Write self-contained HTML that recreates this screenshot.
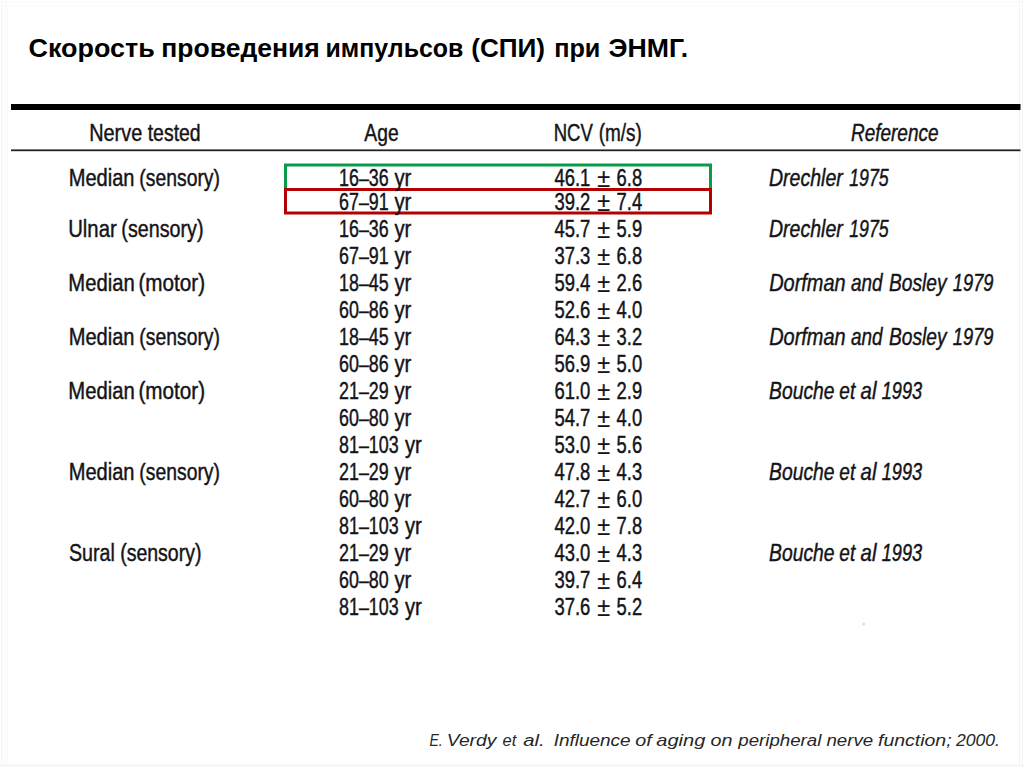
<!DOCTYPE html>
<html><head><meta charset="utf-8"><style>
html,body{margin:0;padding:0;background:#fff;}
body{width:1024px;height:767px;overflow:hidden;position:relative;}
svg{position:absolute;left:0;top:0;}
svg text{font-family:"Liberation Sans",sans-serif;}
</style></head><body>
<svg width="1024" height="767" viewBox="0 0 1024 767">
<rect x="0" y="0" width="1024" height="767" fill="#fff"/>
<rect x="1.5" y="0" width="1" height="767" fill="#f3f3f3"/>
<rect x="1019" y="0" width="1" height="767" fill="#f3f3f3"/>
<rect x="11" y="104" width="1009.5" height="6" fill="#000"/>
<rect x="11" y="149.4" width="1009.5" height="1.8" fill="#222"/>
<rect x="285.5" y="165" width="425" height="24.5" fill="none" stroke="#079c4a" stroke-width="3"/>
<rect x="285.5" y="189.5" width="425" height="23.5" fill="none" stroke="#b40000" stroke-width="3"/>
<rect x="0" y="764" width="1024" height="3" fill="#f7f7f7"/>
<rect x="5" y="0" width="1" height="767" fill="#f8f8f8"/>
<rect x="1022" y="0" width="1" height="767" fill="#f6f6f6"/>
<rect x="0" y="1.5" width="1024" height="1" fill="#f7f7f7"/>
<rect x="7" y="5" width="1010" height="1" fill="#f9f9f9"/>
<rect x="7" y="5" width="1" height="758" fill="#f9f9f9"/>
<circle cx="863.7" cy="624" r="1.5" fill="#ddd"/>
<text transform="translate(28.52,56.90) scale(1.0167,1)" font-size="26.5" font-weight="bold" font-style="normal" fill="#000" >Скорость</text>
<text transform="translate(161.34,56.90) scale(1.0009,1)" font-size="26.5" font-weight="bold" font-style="normal" fill="#000" >проведения</text>
<text transform="translate(325.56,56.90) scale(0.9397,1)" font-size="26.5" font-weight="bold" font-style="normal" fill="#000" >импульсов</text>
<text transform="translate(471.19,56.90) scale(0.9856,1)" font-size="26.5" font-weight="bold" font-style="normal" fill="#000" >(СПИ)</text>
<text transform="translate(554.13,56.90) scale(0.9534,1)" font-size="26.5" font-weight="bold" font-style="normal" fill="#000" >при</text>
<text transform="translate(608.60,56.90) scale(1.0067,1)" font-size="26.5" font-weight="bold" font-style="normal" fill="#000" >ЭНМГ.</text>
<text transform="translate(429.48,745.50) scale(0.8265,1)" font-size="17" font-weight="normal" font-style="italic" fill="#262626" >E.</text>
<text transform="translate(446.76,745.50) scale(1.1325,1)" font-size="17" font-weight="normal" font-style="italic" fill="#262626" >Verdy</text>
<text transform="translate(502.52,745.50) scale(0.9709,1)" font-size="17" font-weight="normal" font-style="italic" fill="#262626" >et</text>
<text transform="translate(523.19,745.50) scale(1.1958,1)" font-size="17" font-weight="normal" font-style="italic" fill="#262626" >al.</text>
<text transform="translate(553.64,745.50) scale(1.1159,1)" font-size="17" font-weight="normal" font-style="italic" fill="#262626" >Influence</text>
<text transform="translate(635.21,745.50) scale(1.1633,1)" font-size="17" font-weight="normal" font-style="italic" fill="#262626" >of</text>
<text transform="translate(656.30,745.50) scale(1.1813,1)" font-size="17" font-weight="normal" font-style="italic" fill="#262626" >aging</text>
<text transform="translate(710.41,745.50) scale(1.1651,1)" font-size="17" font-weight="normal" font-style="italic" fill="#262626" >on</text>
<text transform="translate(738.27,745.50) scale(1.0993,1)" font-size="17" font-weight="normal" font-style="italic" fill="#262626" >peripheral</text>
<text transform="translate(826.42,745.50) scale(1.1020,1)" font-size="17" font-weight="normal" font-style="italic" fill="#262626" >nerve</text>
<text transform="translate(878.02,745.50) scale(1.1448,1)" font-size="17" font-weight="normal" font-style="italic" fill="#262626" >function;</text>
<text transform="translate(955.89,745.50) scale(1.0359,1)" font-size="17" font-weight="normal" font-style="italic" fill="#262626" >2000.</text>
<text transform="translate(89.21,141.00) scale(0.8115,1)" font-size="24.5" font-weight="normal" font-style="normal" fill="#141418" stroke="#141418" stroke-width="0.45">Nerve</text>
<text transform="translate(147.71,141.00) scale(0.7932,1)" font-size="24.5" font-weight="normal" font-style="normal" fill="#141418" stroke="#141418" stroke-width="0.45">tested</text>
<text transform="translate(364.30,141.00) scale(0.7880,1)" font-size="24.5" font-weight="normal" font-style="normal" fill="#141418" stroke="#141418" stroke-width="0.45">Age</text>
<text transform="translate(553.71,141.00) scale(0.7579,1)" font-size="24.5" font-weight="normal" font-style="normal" fill="#141418" stroke="#141418" stroke-width="0.45">NCV</text>
<text transform="translate(598.66,141.00) scale(0.7728,1)" font-size="24.5" font-weight="normal" font-style="normal" fill="#141418" stroke="#141418" stroke-width="0.45">(m/s)</text>
<text transform="translate(851.03,141.00) scale(0.7742,1)" font-size="24.5" font-weight="normal" font-style="italic" fill="#141418" stroke="#141418" stroke-width="0.45">Reference</text>
<text transform="translate(68.69,186.30) scale(0.8189,1)" font-size="24.5" font-weight="normal" font-style="normal" fill="#141418" stroke="#141418" stroke-width="0.45">Median</text>
<text transform="translate(139.34,186.30) scale(0.7901,1)" font-size="24.5" font-weight="normal" font-style="normal" fill="#141418" stroke="#141418" stroke-width="0.45">(sensory)</text>
<text transform="translate(339.06,186.30) scale(0.7568,1.0000)" font-size="23.6" font-style="normal" fill="#141418" stroke="#141418" stroke-width="0.45">16–36</text>
<text transform="translate(394.50,186.30) scale(0.8579,1.0000)" font-size="23.6" font-style="normal" fill="#141418" stroke="#141418" stroke-width="0.45">yr</text>
<text transform="translate(554.46,186.30) scale(0.7819,1.0000)" font-size="23.6" font-style="normal" fill="#141418" stroke="#141418" stroke-width="0.45">46.1</text>
<text transform="translate(597.30,186.90) scale(0.9945,1.1088)" font-size="23.6" font-style="normal" fill="#141418" stroke="#141418" stroke-width="0.2">±</text>
<text transform="translate(616.58,186.30) scale(0.7787,1.0000)" font-size="23.6" font-style="normal" fill="#141418" stroke="#141418" stroke-width="0.45">6.8</text>
<text transform="translate(769.01,186.30) scale(0.7969,1)" font-size="24.5" font-weight="normal" font-style="italic" fill="#141418" stroke="#141418" stroke-width="0.45">Drechler</text>
<text transform="translate(849.16,186.30) scale(0.7256,1)" font-size="24.5" font-weight="normal" font-style="italic" fill="#141418" stroke="#141418" stroke-width="0.45">1975</text>
<text transform="translate(339.06,210.20) scale(0.7568,1.0000)" font-size="23.6" font-style="normal" fill="#141418" stroke="#141418" stroke-width="0.45">67–91</text>
<text transform="translate(394.50,210.20) scale(0.8579,1.0000)" font-size="23.6" font-style="normal" fill="#141418" stroke="#141418" stroke-width="0.45">yr</text>
<text transform="translate(554.46,210.20) scale(0.7819,1.0000)" font-size="23.6" font-style="normal" fill="#141418" stroke="#141418" stroke-width="0.45">39.2</text>
<text transform="translate(597.30,210.80) scale(0.9945,1.1088)" font-size="23.6" font-style="normal" fill="#141418" stroke="#141418" stroke-width="0.2">±</text>
<text transform="translate(616.58,210.20) scale(0.7787,1.0000)" font-size="23.6" font-style="normal" fill="#141418" stroke="#141418" stroke-width="0.45">7.4</text>
<text transform="translate(68.18,237.20) scale(0.8288,1)" font-size="24.5" font-weight="normal" font-style="normal" fill="#141418" stroke="#141418" stroke-width="0.45">Ulnar</text>
<text transform="translate(121.32,237.20) scale(0.8052,1)" font-size="24.5" font-weight="normal" font-style="normal" fill="#141418" stroke="#141418" stroke-width="0.45">(sensory)</text>
<text transform="translate(339.06,237.20) scale(0.7568,1.0000)" font-size="23.6" font-style="normal" fill="#141418" stroke="#141418" stroke-width="0.45">16–36</text>
<text transform="translate(394.50,237.20) scale(0.8579,1.0000)" font-size="23.6" font-style="normal" fill="#141418" stroke="#141418" stroke-width="0.45">yr</text>
<text transform="translate(554.46,237.20) scale(0.7819,1.0000)" font-size="23.6" font-style="normal" fill="#141418" stroke="#141418" stroke-width="0.45">45.7</text>
<text transform="translate(597.30,237.80) scale(0.9945,1.1088)" font-size="23.6" font-style="normal" fill="#141418" stroke="#141418" stroke-width="0.2">±</text>
<text transform="translate(616.58,237.20) scale(0.7787,1.0000)" font-size="23.6" font-style="normal" fill="#141418" stroke="#141418" stroke-width="0.45">5.9</text>
<text transform="translate(769.01,237.20) scale(0.7969,1)" font-size="24.5" font-weight="normal" font-style="italic" fill="#141418" stroke="#141418" stroke-width="0.45">Drechler</text>
<text transform="translate(849.16,237.20) scale(0.7256,1)" font-size="24.5" font-weight="normal" font-style="italic" fill="#141418" stroke="#141418" stroke-width="0.45">1975</text>
<text transform="translate(339.06,264.20) scale(0.7568,1.0000)" font-size="23.6" font-style="normal" fill="#141418" stroke="#141418" stroke-width="0.45">67–91</text>
<text transform="translate(394.50,264.20) scale(0.8579,1.0000)" font-size="23.6" font-style="normal" fill="#141418" stroke="#141418" stroke-width="0.45">yr</text>
<text transform="translate(554.46,264.20) scale(0.7819,1.0000)" font-size="23.6" font-style="normal" fill="#141418" stroke="#141418" stroke-width="0.45">37.3</text>
<text transform="translate(597.30,264.80) scale(0.9945,1.1088)" font-size="23.6" font-style="normal" fill="#141418" stroke="#141418" stroke-width="0.2">±</text>
<text transform="translate(616.58,264.20) scale(0.7787,1.0000)" font-size="23.6" font-style="normal" fill="#141418" stroke="#141418" stroke-width="0.45">6.8</text>
<text transform="translate(68.28,291.20) scale(0.8267,1)" font-size="24.5" font-weight="normal" font-style="normal" fill="#141418" stroke="#141418" stroke-width="0.45">Median</text>
<text transform="translate(138.46,291.20) scale(0.8453,1)" font-size="24.5" font-weight="normal" font-style="normal" fill="#141418" stroke="#141418" stroke-width="0.45">(motor)</text>
<text transform="translate(339.06,291.20) scale(0.7568,1.0000)" font-size="23.6" font-style="normal" fill="#141418" stroke="#141418" stroke-width="0.45">18–45</text>
<text transform="translate(394.50,291.20) scale(0.8579,1.0000)" font-size="23.6" font-style="normal" fill="#141418" stroke="#141418" stroke-width="0.45">yr</text>
<text transform="translate(554.46,291.20) scale(0.7819,1.0000)" font-size="23.6" font-style="normal" fill="#141418" stroke="#141418" stroke-width="0.45">59.4</text>
<text transform="translate(597.30,291.80) scale(0.9945,1.1088)" font-size="23.6" font-style="normal" fill="#141418" stroke="#141418" stroke-width="0.2">±</text>
<text transform="translate(616.58,291.20) scale(0.7787,1.0000)" font-size="23.6" font-style="normal" fill="#141418" stroke="#141418" stroke-width="0.45">2.6</text>
<text transform="translate(769.20,291.20) scale(0.8142,1)" font-size="24.5" font-weight="normal" font-style="italic" fill="#141418" stroke="#141418" stroke-width="0.45">Dorfman</text>
<text transform="translate(851.02,291.20) scale(0.7723,1)" font-size="24.5" font-weight="normal" font-style="italic" fill="#141418" stroke="#141418" stroke-width="0.45">and</text>
<text transform="translate(889.02,291.20) scale(0.7825,1)" font-size="24.5" font-weight="normal" font-style="italic" fill="#141418" stroke="#141418" stroke-width="0.45">Bosley</text>
<text transform="translate(952.84,291.20) scale(0.7471,1)" font-size="24.5" font-weight="normal" font-style="italic" fill="#141418" stroke="#141418" stroke-width="0.45">1979</text>
<text transform="translate(339.06,318.20) scale(0.7568,1.0000)" font-size="23.6" font-style="normal" fill="#141418" stroke="#141418" stroke-width="0.45">60–86</text>
<text transform="translate(394.50,318.20) scale(0.8579,1.0000)" font-size="23.6" font-style="normal" fill="#141418" stroke="#141418" stroke-width="0.45">yr</text>
<text transform="translate(554.46,318.20) scale(0.7819,1.0000)" font-size="23.6" font-style="normal" fill="#141418" stroke="#141418" stroke-width="0.45">52.6</text>
<text transform="translate(597.30,318.80) scale(0.9945,1.1088)" font-size="23.6" font-style="normal" fill="#141418" stroke="#141418" stroke-width="0.2">±</text>
<text transform="translate(616.58,318.20) scale(0.7787,1.0000)" font-size="23.6" font-style="normal" fill="#141418" stroke="#141418" stroke-width="0.45">4.0</text>
<text transform="translate(68.69,345.20) scale(0.8189,1)" font-size="24.5" font-weight="normal" font-style="normal" fill="#141418" stroke="#141418" stroke-width="0.45">Median</text>
<text transform="translate(139.34,345.20) scale(0.7901,1)" font-size="24.5" font-weight="normal" font-style="normal" fill="#141418" stroke="#141418" stroke-width="0.45">(sensory)</text>
<text transform="translate(339.06,345.20) scale(0.7568,1.0000)" font-size="23.6" font-style="normal" fill="#141418" stroke="#141418" stroke-width="0.45">18–45</text>
<text transform="translate(394.50,345.20) scale(0.8579,1.0000)" font-size="23.6" font-style="normal" fill="#141418" stroke="#141418" stroke-width="0.45">yr</text>
<text transform="translate(554.46,345.20) scale(0.7819,1.0000)" font-size="23.6" font-style="normal" fill="#141418" stroke="#141418" stroke-width="0.45">64.3</text>
<text transform="translate(597.30,345.80) scale(0.9945,1.1088)" font-size="23.6" font-style="normal" fill="#141418" stroke="#141418" stroke-width="0.2">±</text>
<text transform="translate(616.58,345.20) scale(0.7787,1.0000)" font-size="23.6" font-style="normal" fill="#141418" stroke="#141418" stroke-width="0.45">3.2</text>
<text transform="translate(769.20,345.20) scale(0.8142,1)" font-size="24.5" font-weight="normal" font-style="italic" fill="#141418" stroke="#141418" stroke-width="0.45">Dorfman</text>
<text transform="translate(851.02,345.20) scale(0.7723,1)" font-size="24.5" font-weight="normal" font-style="italic" fill="#141418" stroke="#141418" stroke-width="0.45">and</text>
<text transform="translate(889.02,345.20) scale(0.7825,1)" font-size="24.5" font-weight="normal" font-style="italic" fill="#141418" stroke="#141418" stroke-width="0.45">Bosley</text>
<text transform="translate(952.84,345.20) scale(0.7471,1)" font-size="24.5" font-weight="normal" font-style="italic" fill="#141418" stroke="#141418" stroke-width="0.45">1979</text>
<text transform="translate(339.06,372.20) scale(0.7568,1.0000)" font-size="23.6" font-style="normal" fill="#141418" stroke="#141418" stroke-width="0.45">60–86</text>
<text transform="translate(394.50,372.20) scale(0.8579,1.0000)" font-size="23.6" font-style="normal" fill="#141418" stroke="#141418" stroke-width="0.45">yr</text>
<text transform="translate(554.46,372.20) scale(0.7819,1.0000)" font-size="23.6" font-style="normal" fill="#141418" stroke="#141418" stroke-width="0.45">56.9</text>
<text transform="translate(597.30,372.80) scale(0.9945,1.1088)" font-size="23.6" font-style="normal" fill="#141418" stroke="#141418" stroke-width="0.2">±</text>
<text transform="translate(616.58,372.20) scale(0.7787,1.0000)" font-size="23.6" font-style="normal" fill="#141418" stroke="#141418" stroke-width="0.45">5.0</text>
<text transform="translate(68.28,399.20) scale(0.8267,1)" font-size="24.5" font-weight="normal" font-style="normal" fill="#141418" stroke="#141418" stroke-width="0.45">Median</text>
<text transform="translate(138.46,399.20) scale(0.8453,1)" font-size="24.5" font-weight="normal" font-style="normal" fill="#141418" stroke="#141418" stroke-width="0.45">(motor)</text>
<text transform="translate(339.06,399.20) scale(0.7568,1.0000)" font-size="23.6" font-style="normal" fill="#141418" stroke="#141418" stroke-width="0.45">21–29</text>
<text transform="translate(394.50,399.20) scale(0.8579,1.0000)" font-size="23.6" font-style="normal" fill="#141418" stroke="#141418" stroke-width="0.45">yr</text>
<text transform="translate(554.46,399.20) scale(0.7819,1.0000)" font-size="23.6" font-style="normal" fill="#141418" stroke="#141418" stroke-width="0.45">61.0</text>
<text transform="translate(597.30,399.80) scale(0.9945,1.1088)" font-size="23.6" font-style="normal" fill="#141418" stroke="#141418" stroke-width="0.2">±</text>
<text transform="translate(616.58,399.20) scale(0.7787,1.0000)" font-size="23.6" font-style="normal" fill="#141418" stroke="#141418" stroke-width="0.45">2.9</text>
<text transform="translate(769.12,399.20) scale(0.7869,1)" font-size="24.5" font-weight="normal" font-style="italic" fill="#141418" stroke="#141418" stroke-width="0.45">Bouche</text>
<text transform="translate(839.33,399.20) scale(0.7770,1)" font-size="24.5" font-weight="normal" font-style="italic" fill="#141418" stroke="#141418" stroke-width="0.45">et</text>
<text transform="translate(860.59,399.20) scale(0.8320,1)" font-size="24.5" font-weight="normal" font-style="italic" fill="#141418" stroke="#141418" stroke-width="0.45">al</text>
<text transform="translate(881.75,399.20) scale(0.7419,1)" font-size="24.5" font-weight="normal" font-style="italic" fill="#141418" stroke="#141418" stroke-width="0.45">1993</text>
<text transform="translate(339.06,426.20) scale(0.7568,1.0000)" font-size="23.6" font-style="normal" fill="#141418" stroke="#141418" stroke-width="0.45">60–80</text>
<text transform="translate(394.50,426.20) scale(0.8579,1.0000)" font-size="23.6" font-style="normal" fill="#141418" stroke="#141418" stroke-width="0.45">yr</text>
<text transform="translate(554.46,426.20) scale(0.7819,1.0000)" font-size="23.6" font-style="normal" fill="#141418" stroke="#141418" stroke-width="0.45">54.7</text>
<text transform="translate(597.30,426.80) scale(0.9945,1.1088)" font-size="23.6" font-style="normal" fill="#141418" stroke="#141418" stroke-width="0.2">±</text>
<text transform="translate(616.58,426.20) scale(0.7787,1.0000)" font-size="23.6" font-style="normal" fill="#141418" stroke="#141418" stroke-width="0.45">4.0</text>
<text transform="translate(339.06,453.20) scale(0.7568,1.0000)" font-size="23.6" font-style="normal" fill="#141418" stroke="#141418" stroke-width="0.45">81–103</text>
<text transform="translate(404.90,453.20) scale(0.8579,1.0000)" font-size="23.6" font-style="normal" fill="#141418" stroke="#141418" stroke-width="0.45">yr</text>
<text transform="translate(554.46,453.20) scale(0.7819,1.0000)" font-size="23.6" font-style="normal" fill="#141418" stroke="#141418" stroke-width="0.45">53.0</text>
<text transform="translate(597.30,453.80) scale(0.9945,1.1088)" font-size="23.6" font-style="normal" fill="#141418" stroke="#141418" stroke-width="0.2">±</text>
<text transform="translate(616.58,453.20) scale(0.7787,1.0000)" font-size="23.6" font-style="normal" fill="#141418" stroke="#141418" stroke-width="0.45">5.6</text>
<text transform="translate(68.69,480.20) scale(0.8189,1)" font-size="24.5" font-weight="normal" font-style="normal" fill="#141418" stroke="#141418" stroke-width="0.45">Median</text>
<text transform="translate(139.34,480.20) scale(0.7901,1)" font-size="24.5" font-weight="normal" font-style="normal" fill="#141418" stroke="#141418" stroke-width="0.45">(sensory)</text>
<text transform="translate(339.06,480.20) scale(0.7568,1.0000)" font-size="23.6" font-style="normal" fill="#141418" stroke="#141418" stroke-width="0.45">21–29</text>
<text transform="translate(394.50,480.20) scale(0.8579,1.0000)" font-size="23.6" font-style="normal" fill="#141418" stroke="#141418" stroke-width="0.45">yr</text>
<text transform="translate(554.46,480.20) scale(0.7819,1.0000)" font-size="23.6" font-style="normal" fill="#141418" stroke="#141418" stroke-width="0.45">47.8</text>
<text transform="translate(597.30,480.80) scale(0.9945,1.1088)" font-size="23.6" font-style="normal" fill="#141418" stroke="#141418" stroke-width="0.2">±</text>
<text transform="translate(616.58,480.20) scale(0.7787,1.0000)" font-size="23.6" font-style="normal" fill="#141418" stroke="#141418" stroke-width="0.45">4.3</text>
<text transform="translate(769.12,480.20) scale(0.7869,1)" font-size="24.5" font-weight="normal" font-style="italic" fill="#141418" stroke="#141418" stroke-width="0.45">Bouche</text>
<text transform="translate(839.33,480.20) scale(0.7770,1)" font-size="24.5" font-weight="normal" font-style="italic" fill="#141418" stroke="#141418" stroke-width="0.45">et</text>
<text transform="translate(860.59,480.20) scale(0.8320,1)" font-size="24.5" font-weight="normal" font-style="italic" fill="#141418" stroke="#141418" stroke-width="0.45">al</text>
<text transform="translate(881.75,480.20) scale(0.7419,1)" font-size="24.5" font-weight="normal" font-style="italic" fill="#141418" stroke="#141418" stroke-width="0.45">1993</text>
<text transform="translate(339.06,507.20) scale(0.7568,1.0000)" font-size="23.6" font-style="normal" fill="#141418" stroke="#141418" stroke-width="0.45">60–80</text>
<text transform="translate(394.50,507.20) scale(0.8579,1.0000)" font-size="23.6" font-style="normal" fill="#141418" stroke="#141418" stroke-width="0.45">yr</text>
<text transform="translate(554.46,507.20) scale(0.7819,1.0000)" font-size="23.6" font-style="normal" fill="#141418" stroke="#141418" stroke-width="0.45">42.7</text>
<text transform="translate(597.30,507.80) scale(0.9945,1.1088)" font-size="23.6" font-style="normal" fill="#141418" stroke="#141418" stroke-width="0.2">±</text>
<text transform="translate(616.58,507.20) scale(0.7787,1.0000)" font-size="23.6" font-style="normal" fill="#141418" stroke="#141418" stroke-width="0.45">6.0</text>
<text transform="translate(339.06,534.20) scale(0.7568,1.0000)" font-size="23.6" font-style="normal" fill="#141418" stroke="#141418" stroke-width="0.45">81–103</text>
<text transform="translate(404.90,534.20) scale(0.8579,1.0000)" font-size="23.6" font-style="normal" fill="#141418" stroke="#141418" stroke-width="0.45">yr</text>
<text transform="translate(554.46,534.20) scale(0.7819,1.0000)" font-size="23.6" font-style="normal" fill="#141418" stroke="#141418" stroke-width="0.45">42.0</text>
<text transform="translate(597.30,534.80) scale(0.9945,1.1088)" font-size="23.6" font-style="normal" fill="#141418" stroke="#141418" stroke-width="0.2">±</text>
<text transform="translate(616.58,534.20) scale(0.7787,1.0000)" font-size="23.6" font-style="normal" fill="#141418" stroke="#141418" stroke-width="0.45">7.8</text>
<text transform="translate(69.02,561.20) scale(0.8016,1)" font-size="24.5" font-weight="normal" font-style="normal" fill="#141418" stroke="#141418" stroke-width="0.45">Sural</text>
<text transform="translate(120.13,561.20) scale(0.7972,1)" font-size="24.5" font-weight="normal" font-style="normal" fill="#141418" stroke="#141418" stroke-width="0.45">(sensory)</text>
<text transform="translate(339.06,561.20) scale(0.7568,1.0000)" font-size="23.6" font-style="normal" fill="#141418" stroke="#141418" stroke-width="0.45">21–29</text>
<text transform="translate(394.50,561.20) scale(0.8579,1.0000)" font-size="23.6" font-style="normal" fill="#141418" stroke="#141418" stroke-width="0.45">yr</text>
<text transform="translate(554.46,561.20) scale(0.7819,1.0000)" font-size="23.6" font-style="normal" fill="#141418" stroke="#141418" stroke-width="0.45">43.0</text>
<text transform="translate(597.30,561.80) scale(0.9945,1.1088)" font-size="23.6" font-style="normal" fill="#141418" stroke="#141418" stroke-width="0.2">±</text>
<text transform="translate(616.58,561.20) scale(0.7787,1.0000)" font-size="23.6" font-style="normal" fill="#141418" stroke="#141418" stroke-width="0.45">4.3</text>
<text transform="translate(769.12,561.20) scale(0.7869,1)" font-size="24.5" font-weight="normal" font-style="italic" fill="#141418" stroke="#141418" stroke-width="0.45">Bouche</text>
<text transform="translate(839.33,561.20) scale(0.7770,1)" font-size="24.5" font-weight="normal" font-style="italic" fill="#141418" stroke="#141418" stroke-width="0.45">et</text>
<text transform="translate(860.59,561.20) scale(0.8320,1)" font-size="24.5" font-weight="normal" font-style="italic" fill="#141418" stroke="#141418" stroke-width="0.45">al</text>
<text transform="translate(881.75,561.20) scale(0.7419,1)" font-size="24.5" font-weight="normal" font-style="italic" fill="#141418" stroke="#141418" stroke-width="0.45">1993</text>
<text transform="translate(339.06,588.20) scale(0.7568,1.0000)" font-size="23.6" font-style="normal" fill="#141418" stroke="#141418" stroke-width="0.45">60–80</text>
<text transform="translate(394.50,588.20) scale(0.8579,1.0000)" font-size="23.6" font-style="normal" fill="#141418" stroke="#141418" stroke-width="0.45">yr</text>
<text transform="translate(554.46,588.20) scale(0.7819,1.0000)" font-size="23.6" font-style="normal" fill="#141418" stroke="#141418" stroke-width="0.45">39.7</text>
<text transform="translate(597.30,588.80) scale(0.9945,1.1088)" font-size="23.6" font-style="normal" fill="#141418" stroke="#141418" stroke-width="0.2">±</text>
<text transform="translate(616.58,588.20) scale(0.7787,1.0000)" font-size="23.6" font-style="normal" fill="#141418" stroke="#141418" stroke-width="0.45">6.4</text>
<text transform="translate(339.06,615.20) scale(0.7568,1.0000)" font-size="23.6" font-style="normal" fill="#141418" stroke="#141418" stroke-width="0.45">81–103</text>
<text transform="translate(404.90,615.20) scale(0.8579,1.0000)" font-size="23.6" font-style="normal" fill="#141418" stroke="#141418" stroke-width="0.45">yr</text>
<text transform="translate(554.46,615.20) scale(0.7819,1.0000)" font-size="23.6" font-style="normal" fill="#141418" stroke="#141418" stroke-width="0.45">37.6</text>
<text transform="translate(597.30,615.80) scale(0.9945,1.1088)" font-size="23.6" font-style="normal" fill="#141418" stroke="#141418" stroke-width="0.2">±</text>
<text transform="translate(616.58,615.20) scale(0.7787,1.0000)" font-size="23.6" font-style="normal" fill="#141418" stroke="#141418" stroke-width="0.45">5.2</text>
</svg>
</body></html>
